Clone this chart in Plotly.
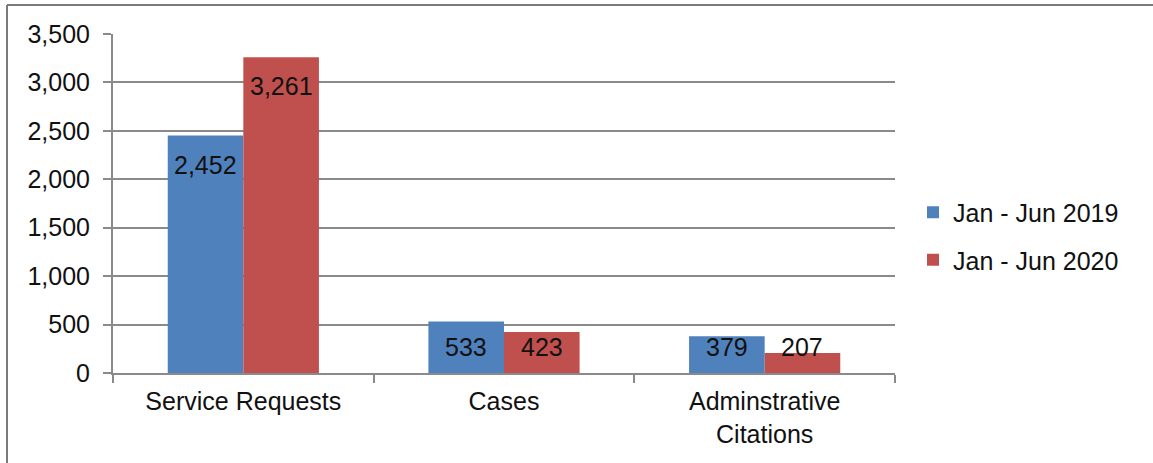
import plotly.graph_objects as go

# Chart data
categories = ["Service Requests", "Cases", "Adminstrative<br>Citations"]
series_names = ["Jan - Jun 2019", "Jan - Jun 2020"]
values_2019 = [2452, 533, 379]
values_2020 = [3261, 423, 207]
y_tick_values = [0, 500, 1000, 1500, 2000, 2500, 3000, 3500]

BLUE = "#4F81BD"
RED = "#C0504D"
GRID = "#8a8a8a"
FONT = "Liberation Sans, Arial, sans-serif"
TEXT = "#111111"
FS = 25

W, H = 1153, 463
ML, MR, MT, MB = 113, 258, 34, 90
plot_w = W - ML - MR
plot_h = H - MT - MB

fig = go.Figure()
fig.add_trace(go.Bar(name=series_names[0], x=categories, y=values_2019,
                     marker=dict(color=BLUE, line=dict(width=0)), legendgroup="a"))
fig.add_trace(go.Bar(name=series_names[1], x=categories, y=values_2020,
                     marker=dict(color=RED, line=dict(width=0)), legendgroup="b"))

# value labels near the top of each bar, kept above the axis for short bars
bargap = 0.42
half = (1 - bargap) / 4
annotations = []
for k, vals in enumerate([values_2019, values_2020]):
    off = -half if k == 0 else half
    for i, v in enumerate(vals):
        ly = max(v - 300, 269)
        annotations.append(dict(
            x=i + off, y=ly, xref="x", yref="y", text=f"{v:,}",
            showarrow=False, font=dict(family=FONT, size=FS, color=TEXT),
            xanchor="center", yanchor="middle"))

def px_x(p):
    return (p - ML) / plot_w

def px_y(p):
    return (H - MB - p) / plot_h

shapes = [
    # outer frame (top and left edges)
    dict(type="line", xref="paper", yref="paper", x0=px_x(7), x1=px_x(W + 5),
         y0=px_y(5), y1=px_y(5), line=dict(color="#7a7a7a", width=2)),
    dict(type="line", xref="paper", yref="paper", x0=px_x(7), x1=px_x(7),
         y0=px_y(5), y1=px_y(H + 5), line=dict(color="#7a7a7a", width=2)),
]

fig.update_layout(
    width=W, height=H,
    margin=dict(l=ML, r=MR, t=MT, b=MB, pad=0),
    paper_bgcolor="white", plot_bgcolor="white",
    barmode="group", bargap=bargap, bargroupgap=0,
    font=dict(family=FONT, size=FS, color=TEXT),
    showlegend=True,
    legend=dict(x=px_x(913), y=px_y(236), xanchor="left", yanchor="middle",
                font=dict(family=FONT, size=FS, color=TEXT),
                tracegroupgap=12, bgcolor="rgba(0,0,0,0)"),
    annotations=annotations,
    shapes=shapes,
)

fig.update_xaxes(
    type="category", showgrid=False, zeroline=False,
    showline=True, linecolor=GRID, linewidth=2,
    ticks="outside", tickson="boundaries", ticklen=8, tickcolor=GRID, tickwidth=2,
    ticklabelstandoff=5,
    tickfont=dict(family=FONT, size=FS, color=TEXT),
)
fig.update_yaxes(
    range=[0, 3500], tickvals=y_tick_values,
    ticktext=[f"{t:,}" for t in y_tick_values],
    showgrid=True, gridcolor=GRID, gridwidth=2, zeroline=False,
    showline=True, linecolor=GRID, linewidth=2,
    ticks="outside", ticklen=8, tickcolor=GRID, tickwidth=2,
    ticklabelstandoff=8,
    tickfont=dict(family=FONT, size=FS, color=TEXT),
)

fig.write_html("out.html")
